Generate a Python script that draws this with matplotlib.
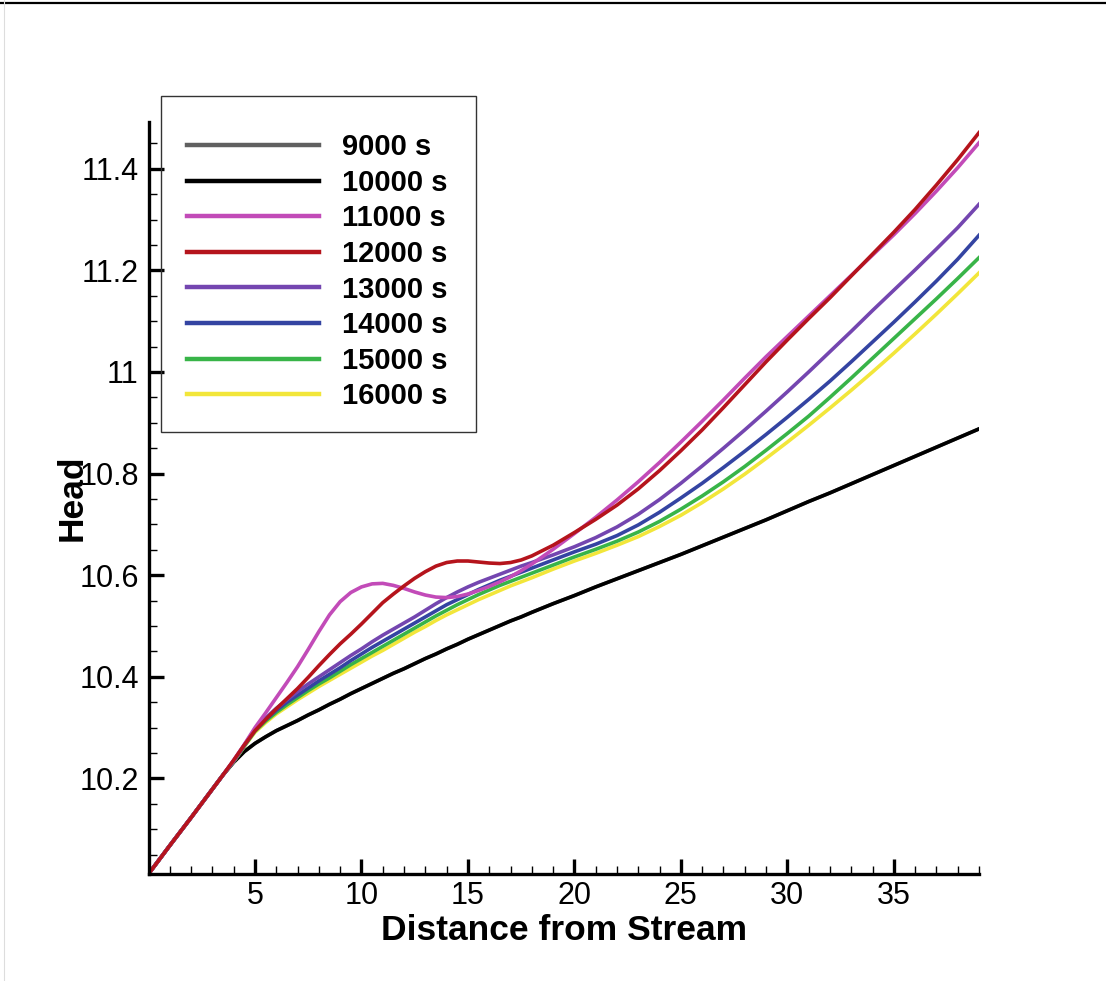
import matplotlib
matplotlib.use("Agg")
import matplotlib.pyplot as plt
from matplotlib.lines import Line2D
from matplotlib.patches import Rectangle
from matplotlib.ticker import FixedLocator, FixedFormatter, MultipleLocator

plt.rcParams['font.family'] = ['Liberation Sans', 'DejaVu Sans']

# ---------------- data ----------------
distance = [0, 1, 2, 3, 3.5, 4, 4.5, 5, 5.5, 6, 6.5, 7, 7.5, 8, 8.5, 9, 9.5, 10, 10.5,
            11, 11.5, 12, 12.5, 13, 13.5, 14, 14.5, 15, 15.5, 16, 16.5, 17, 17.5, 18,
            19, 20, 21, 22, 23, 24, 25, 26, 27, 28, 29, 30, 31, 32, 33, 34, 35, 36, 37, 38, 39]

head_10000 = [10.012, 10.068, 10.123, 10.179, 10.207, 10.232, 10.253, 10.269, 10.282, 10.294,
              10.304, 10.314, 10.325, 10.335, 10.346, 10.356, 10.367, 10.377, 10.387,
              10.397, 10.407, 10.416, 10.426, 10.436, 10.445, 10.455, 10.464, 10.474, 10.483,
              10.492, 10.501, 10.510, 10.518, 10.527,
              10.544, 10.560, 10.577, 10.593, 10.609, 10.625, 10.641, 10.658, 10.675, 10.692,
              10.709, 10.727, 10.745, 10.762, 10.780, 10.798, 10.816, 10.834, 10.852, 10.870, 10.888]
head_9000 = list(head_10000)
head_11000 = [10.012, 10.068, 10.123, 10.179, 10.207, 10.236, 10.267, 10.300, 10.329, 10.359,
              10.389, 10.420, 10.454, 10.489, 10.522, 10.548, 10.566, 10.577, 10.583,
              10.584, 10.580, 10.574, 10.567, 10.561, 10.557, 10.556, 10.558, 10.563, 10.570,
              10.578, 10.587, 10.597, 10.609, 10.622,
              10.651, 10.682, 10.714, 10.748, 10.784, 10.822, 10.862, 10.903, 10.945, 10.988,
              11.030, 11.070, 11.110, 11.150, 11.190, 11.230, 11.270, 11.312, 11.356, 11.402, 11.451]
head_12000 = [10.012, 10.068, 10.123, 10.179, 10.207, 10.236, 10.266, 10.294, 10.316, 10.337,
              10.357, 10.377, 10.399, 10.422, 10.444, 10.465, 10.484, 10.504, 10.525,
              10.546, 10.563, 10.579, 10.594, 10.607, 10.618, 10.625, 10.628, 10.628, 10.626,
              10.624, 10.623, 10.625, 10.630, 10.638,
              10.659, 10.684, 10.710, 10.738, 10.770, 10.806, 10.845, 10.886, 10.930, 10.975,
              11.020, 11.063, 11.105, 11.146, 11.189, 11.232, 11.275, 11.320, 11.368, 11.418, 11.471]
head_13000 = [10.012, 10.068, 10.123, 10.179, 10.207, 10.235, 10.266, 10.297, 10.319, 10.338,
              10.355, 10.371, 10.386, 10.400, 10.414, 10.428, 10.442, 10.455, 10.469,
              10.482, 10.494, 10.506, 10.518, 10.531, 10.544, 10.556, 10.567, 10.577, 10.586,
              10.594, 10.602, 10.610, 10.618, 10.625,
              10.640, 10.656, 10.674, 10.695, 10.720, 10.749, 10.781, 10.815, 10.850, 10.886,
              10.923, 10.961, 11.000, 11.040, 11.080, 11.121, 11.161, 11.201, 11.242, 11.284, 11.330]
head_14000 = [10.012, 10.068, 10.123, 10.179, 10.207, 10.234, 10.265, 10.295, 10.316, 10.334,
              10.350, 10.364, 10.378, 10.392, 10.405, 10.418, 10.432, 10.445, 10.458,
              10.470, 10.482, 10.494, 10.506, 10.518, 10.530, 10.542, 10.552, 10.562, 10.572,
              10.581, 10.590, 10.598, 10.606, 10.614,
              10.630, 10.646, 10.661, 10.678, 10.699, 10.724, 10.752, 10.781, 10.812, 10.844,
              10.877, 10.911, 10.946, 10.982, 11.020, 11.059, 11.098, 11.138, 11.179, 11.222, 11.269]
head_15000 = [10.012, 10.068, 10.123, 10.179, 10.207, 10.234, 10.264, 10.293, 10.313, 10.330,
              10.345, 10.359, 10.373, 10.386, 10.398, 10.411, 10.424, 10.436, 10.448,
              10.460, 10.472, 10.484, 10.496, 10.508, 10.520, 10.531, 10.542, 10.552, 10.562,
              10.571, 10.580, 10.588, 10.596, 10.604,
              10.620, 10.636, 10.651, 10.667, 10.685, 10.706, 10.730, 10.756, 10.784, 10.814,
              10.846, 10.879, 10.913, 10.950, 10.988, 11.027, 11.066, 11.105, 11.144, 11.184, 11.225]
head_16000 = [10.012, 10.068, 10.123, 10.179, 10.207, 10.233, 10.263, 10.291, 10.310, 10.327,
              10.341, 10.355, 10.368, 10.381, 10.393, 10.405, 10.417, 10.429, 10.441,
              10.452, 10.464, 10.476, 10.488, 10.499, 10.511, 10.522, 10.532, 10.542, 10.552,
              10.561, 10.570, 10.579, 10.587, 10.595,
              10.612, 10.628, 10.643, 10.659, 10.676, 10.696, 10.718, 10.743, 10.770, 10.799,
              10.830, 10.862, 10.895, 10.929, 10.964, 11.000, 11.037, 11.075, 11.114, 11.154, 11.195]

series_labels = ['9000 s', '10000 s', '11000 s', '12000 s', '13000 s', '14000 s', '15000 s', '16000 s']
series_values = [head_9000, head_10000, head_11000, head_12000, head_13000, head_14000, head_15000, head_16000]
series_colors = ['#606060', '#000000', '#c24bb8', '#b5141c', '#7446b0', '#3444a2', '#38b448', '#f2e63a']

x_ticks = [5, 10, 15, 20, 25, 30, 35]
x_tick_labels = ['5', '10', '15', '20', '25', '30', '35']
y_ticks = [10.2, 10.4, 10.6, 10.8, 11.0, 11.2, 11.4]
y_tick_labels = ['10.2', '10.4', '10.6', '10.8', '11', '11.2', '11.4']

# ---------------- figure ----------------
fig = plt.figure(figsize=(11.06, 9.81), dpi=100)
W, H = 1106, 981
ax = fig.add_axes([148.5 / W, 1 - 874 / H, (979 - 148.5) / W, (874 - 122) / H])

# draw order: 9000 under 10000, lower curves first, red on top
order = [0, 1, 7, 6, 5, 4, 2, 3]
handles = {}
for i in order:
    ln, = ax.plot(distance, series_values[i], color=series_colors[i], lw=2.6,
                  solid_joinstyle='round', label=series_labels[i])
    handles[i] = ln

ax.set_xlim(0, 39)
ax.set_ylim(10.012, 11.492)

for s in ['top', 'right']:
    ax.spines[s].set_visible(False)
for s in ['left', 'bottom']:
    ax.spines[s].set_linewidth(2.4)

ax.xaxis.set_major_locator(FixedLocator(x_ticks))
ax.xaxis.set_major_formatter(FixedFormatter(x_tick_labels))
ax.yaxis.set_major_locator(FixedLocator(y_ticks))
ax.yaxis.set_major_formatter(FixedFormatter(y_tick_labels))
ax.xaxis.set_minor_locator(MultipleLocator(1))
ax.yaxis.set_minor_locator(MultipleLocator(0.05))

ax.tick_params(which='major', direction='in', length=11, width=2.4, labelsize=22)
ax.tick_params(which='minor', direction='in', length=6, width=1.0)
ax.tick_params(axis='x', which='major', pad=5)
ax.tick_params(axis='y', which='major', pad=7)

ax.set_xlabel('Distance from Stream', fontsize=25.5, fontweight='bold')
ax.xaxis.set_label_coords(0.5, -(930 - 874) / 752, transform=ax.transAxes)
ax.xaxis.label.set_va('center')
ax.set_ylabel('Head', fontsize=25.5, fontweight='bold')
ax.yaxis.set_label_coords((72 - 148.5) / 830.5, 0.50, transform=ax.transAxes)
ax.yaxis.label.set_va('center')

leg = ax.legend([handles[i] for i in range(8)], series_labels,
                loc='upper left', bbox_to_anchor=(161 / W, 1 - 107 / H),
                bbox_transform=fig.transFigure, borderaxespad=0,
                prop={'weight': 'bold', 'size': 21},
                handlelength=4.5, handletextpad=0.8, labelspacing=0.26,
                borderpad=0.9, frameon=False)
for lh in leg.get_lines():
    lh.set_linewidth(3.2)

# legend box
fig.add_artist(Rectangle((161 / W, 1 - 432 / H), 315 / W, 336 / H, transform=fig.transFigure,
                         facecolor='none', edgecolor='#333333', lw=1.0))

# figure border lines seen in the reference
fig.add_artist(Line2D([0, 1], [1 - 2.5 / H, 1 - 2.5 / H], transform=fig.transFigure,
                      color='black', lw=1.6))
fig.add_artist(Line2D([3.5 / W, 3.5 / W], [0, 1], transform=fig.transFigure,
                      color='#dddddd', lw=0.8))

fig.savefig('out.png', dpi=100)
